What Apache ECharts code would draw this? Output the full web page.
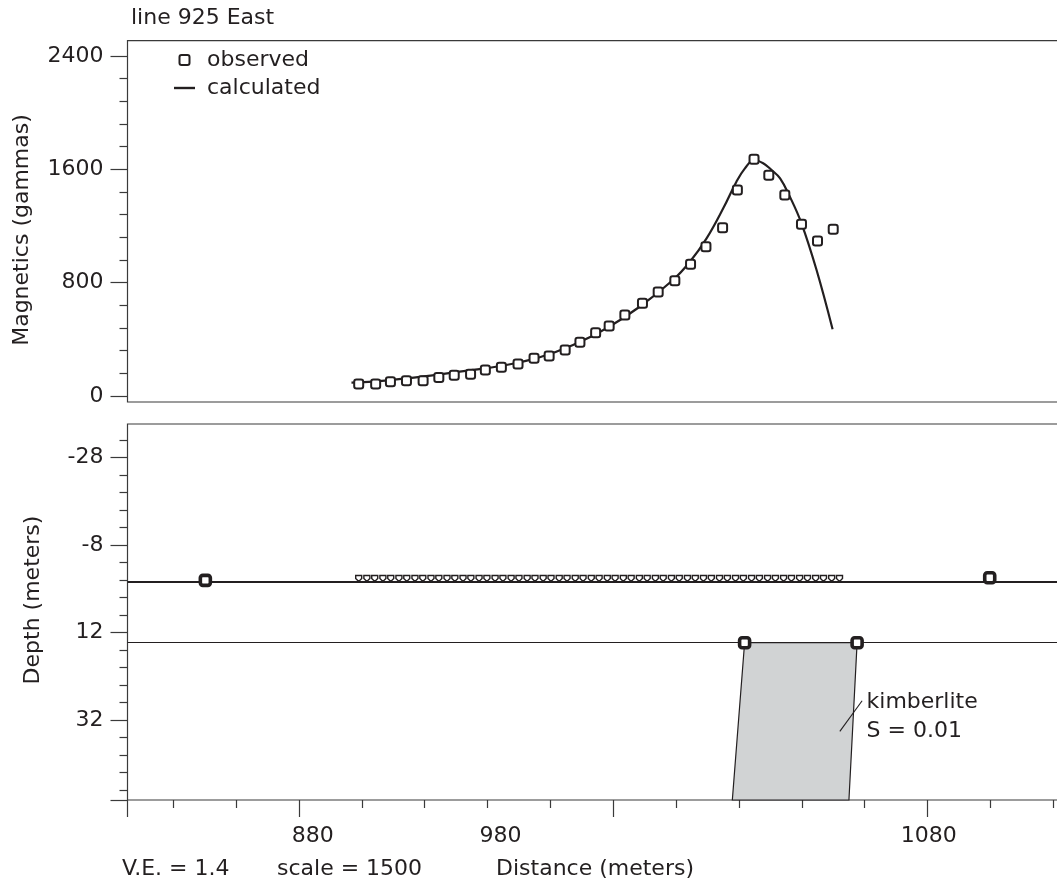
<!DOCTYPE html>
<html>
<head>
<meta charset="utf-8">
<script src="https://cdn.jsdelivr.net/npm/echarts@6/dist/echarts.min.js"></script>
<style>
  html, body { margin: 0; padding: 0; background: #ffffff; }
  #chart { width: 1057px; height: 892px; }
</style>
</head>
<body>
<div id="chart"></div>
<script>
// ---------- data ----------
// observed magnetics (top panel)
const obsX = [899, 904.4, 909.1, 914.2, 919.5, 924.5, 929.4, 934.6, 939.3, 944.4, 949.7, 954.8, 959.6, 964.7, 969.4, 974.4, 978.7, 983.7, 989.3, 994.3, 999.6, 1004.6, 1009.5, 1014.8, 1019.5, 1024.8, 1029.5, 1034.6, 1039.9, 1045.0, 1050.0];
const obsY = [85, 85, 100, 108, 108, 130, 146, 153, 184, 203, 226, 266, 282, 325, 379, 447, 494, 572, 654, 734, 814, 930, 1054, 1188, 1454, 1671, 1558, 1419, 1212, 1094, 1177];
// calculated magnetics (top panel)
const calcX = [896.7, 903.6, 914.2, 924.8, 935.4, 946.0, 956.6, 967.2, 977.9, 988.4, 999.0, 1004.4, 1009.7, 1015.0, 1019.2, 1021.9, 1024.8, 1027.7, 1030.4, 1033.1, 1036.2, 1039.9, 1044.7, 1049.8];
const calcY = [94, 101, 125, 153, 184, 219, 273, 360, 478, 630, 819, 948, 1113, 1325, 1513, 1607, 1666, 1643, 1595, 1536, 1407, 1219, 889, 471];
// stations (bottom panel)
const stationX = [899.0, 901.6, 904.1, 906.7, 909.2, 911.8, 914.3, 916.9, 919.4, 922.0, 924.5, 927.1, 929.6, 932.2, 934.7, 937.3, 939.8, 942.4, 944.9, 947.5, 950.0, 952.6, 955.1, 957.7, 960.2, 962.8, 965.3, 967.9, 970.4, 973.0, 975.5, 978.1, 980.6, 983.2, 985.7, 988.3, 990.8, 993.4, 995.9, 998.5, 1001.0, 1003.6, 1006.1, 1008.7, 1011.2, 1013.8, 1016.3, 1018.9, 1021.4, 1024.0, 1026.5, 1029.1, 1031.6, 1034.2, 1036.7, 1039.3, 1041.8, 1044.4, 1046.9, 1049.5, 1052.0];
const stationDepth = -0.32;
const endPointX = [850.2, 1099.8];
const endPointDepth = [0.1, -0.5];
const surfaceDepth = 0.41;
const layerDepth = 14.35;
// kimberlite body
const kimX = [1021.8, 1057.6, 1055.0, 1017.9];
const kimDepth = [14.35, 14.35, 50.27, 50.27];
const kimCornerX = [1021.8, 1057.6];
const kimCornerDepth = [14.35, 14.35];
const leaderX = [1052.1, 1059.2];
const leaderDepth = [34.6, 27.6];
const kimLabelAt = [1060.6, 31.2];
const kimLabel = 'kimberlite\nS = 0.01';
// axes
const xMin = 825.43, xMax = 1122.96;
const xMajorTicks = [825.43, 880, 980, 1080];
const xMinorTicks = [840, 860, 900, 920, 940, 960, 1000, 1020, 1040, 1060, 1100, 1120];
const xTickLabels = ['880', '980', '1080'];
const xTickLabelAt = [884.4, 944.1, 1080.4];
const magMin = -42.4, magMax = 2508;
const magMajor = [0, 800, 1600, 2400];
const magMinor = [160, 320, 480, 640, 960, 1120, 1280, 1440, 1760, 1920, 2080, 2240];
const depMin = -35.61, depMax = 50.27;
const depLabels = [-28, -8, 12, 32];
const depMajorTicks = [-28, -8, 12, 32, 50.27];
const depMinor = [-32, -24, -20, -16, -12, -4, 0, 4, 8, 16, 20, 24, 28, 36, 40, 44, 48];

// ---------- style ----------
const INK = '#231f20';
const AX = '#3a3a3a';
const FONT = 'DejaVu Sans';
const FS = 22;

const chart = echarts.init(document.getElementById('chart'), null, { renderer: 'canvas' });

function zip(a, b) { return a.map((v, i) => [v, b[i]]); }

const gridCommon = { show: true, borderColor: AX, borderWidth: 1.2, backgroundColor: 'transparent', outerBoundsMode: 'none', containLabel: false };

function xAx(gridIndex, extra) {
  return Object.assign({
    type: 'value', gridIndex, min: xMin, max: xMax, position: 'bottom',
    axisLine: { show: false, onZero: false }, splitLine: { show: false },
    axisLabel: { show: false }, axisTick: { show: false }
  }, extra);
}
function yAx(gridIndex, extra) {
  return Object.assign({
    type: 'value', gridIndex, position: 'left',
    axisLine: { show: false, onZero: false }, splitLine: { show: false },
    axisLabel: { show: false }, axisTick: { show: false }
  }, extra);
}
function plain(v) { return String(v); }

const option = {
  animation: false,
  backgroundColor: '#ffffff',
  textStyle: { fontFamily: FONT, color: INK },
  title: {
    text: 'line 925 East', left: 131, top: 7, padding: 0,
    textStyle: { fontFamily: FONT, fontSize: FS, fontWeight: 'normal', color: INK }
  },
  legend: {
    orient: 'vertical', left: 174, top: 49, padding: 0,
    itemWidth: 21, itemHeight: 10, itemGap: 6,
    symbolKeepAspect: true,
    textStyle: { fontFamily: FONT, fontSize: FS, color: INK, padding: [0, 0, 0, 7] },
    data: [
      { name: 'observed', icon: 'path://M2,0H8A2,2 0 0 1 10,2V8A2,2 0 0 1 8,10H2A2,2 0 0 1 0,8V2A2,2 0 0 1 2,0Z',
        itemStyle: { color: '#ffffff', borderColor: INK, borderWidth: 2, opacity: 1 } },
      { name: 'calculated', icon: 'path://M0,0H21V2.4H0Z',
        itemStyle: { color: INK, borderWidth: 0, opacity: 1 } }
    ]
  },
  grid: [
    Object.assign({ left: 127.5, top: 40.7, width: 935, height: 361.3 }, gridCommon),
    Object.assign({ left: 127.5, top: 424, width: 935, height: 376 }, gridCommon)
  ],
  xAxis: [
    xAx(0, {}),
    xAx(1, { axisTick: { show: true, customValues: xMinorTicks, length: 8, inside: false, lineStyle: { color: AX, width: 1.2 } } }),
    xAx(1, {
      axisTick: { show: true, customValues: xMajorTicks, length: 17, inside: false, lineStyle: { color: AX, width: 1.2 } },
      axisLabel: {
        show: true, customValues: xTickLabelAt, margin: 25,
        fontFamily: FONT, fontSize: FS, color: INK,
        formatter: function (v) {
          for (let i = 0; i < xTickLabelAt.length; i++) {
            if (Math.abs(xTickLabelAt[i] - v) < 1e-6) return xTickLabels[i];
          }
          return '';
        }
      },
      name: 'Distance (meters)', nameLocation: 'middle', nameGap: 58,
      nameTextStyle: { fontFamily: FONT, fontSize: FS, color: INK }
    })
  ],
  yAxis: [
    yAx(0, {
      min: magMin, max: magMax,
      axisTick: { show: true, customValues: magMajor, length: 17, lineStyle: { color: AX, width: 1.2 } },
      axisLabel: { show: true, customValues: magMajor, margin: 24, fontFamily: FONT, fontSize: FS, color: INK, formatter: plain }
    }),
    yAx(0, {
      min: magMin, max: magMax,
      axisTick: { show: true, customValues: magMinor, length: 8, lineStyle: { color: AX, width: 1.2 } }
    }),
    yAx(1, {
      min: depMin, max: depMax, inverse: true,
      axisTick: { show: true, customValues: depMajorTicks, length: 17, lineStyle: { color: AX, width: 1.2 } },
      axisLabel: { show: true, customValues: depLabels, margin: 24, fontFamily: FONT, fontSize: FS, color: INK, formatter: plain }
    }),
    yAx(1, {
      min: depMin, max: depMax, inverse: true,
      axisTick: { show: true, customValues: depMinor, length: 8, lineStyle: { color: AX, width: 1.2 } }
    })
  ],
  graphic: [
    { type: 'text', x: 22, y: 230, rotation: Math.PI / 2,
      style: { text: 'Magnetics (gammas)', fontFamily: FONT, fontSize: FS, fill: INK, align: 'center', verticalAlign: 'middle' } },
    { type: 'text', x: 33, y: 600, rotation: Math.PI / 2,
      style: { text: 'Depth (meters)', fontFamily: FONT, fontSize: FS, fill: INK, align: 'center', verticalAlign: 'middle' } },
    { type: 'text', x: 122, y: 869,
      style: { text: 'V.E. = 1.4', fontFamily: FONT, fontSize: FS, fill: INK, align: 'left', verticalAlign: 'middle' } },
    { type: 'text', x: 277, y: 869,
      style: { text: 'scale = 1500', fontFamily: FONT, fontSize: FS, fill: INK, align: 'left', verticalAlign: 'middle' } }
  ],
  series: [
    {
      name: 'calculated', type: 'line', xAxisIndex: 0, yAxisIndex: 0,
      data: zip(calcX, calcY), showSymbol: false, symbol: 'none',
      smooth: 0.4,
      lineStyle: { color: INK, width: 2.2, opacity: 1 }, itemStyle: { color: INK, opacity: 1 }, z: 3
    },
    {
      name: 'observed', type: 'scatter', xAxisIndex: 0, yAxisIndex: 0,
      data: zip(obsX, obsY), symbol: 'roundRect', symbolSize: 9,
      itemStyle: { color: '#ffffff', borderColor: INK, borderWidth: 2, opacity: 1 }, z: 4
    },
    {
      name: 'kimberlite', type: 'custom', xAxisIndex: 1, yAxisIndex: 2,
      data: [[kimX[0], kimDepth[0]]], clip: false, z: 2,
      renderItem: function (params, api) {
        const pts = kimX.map((x, i) => api.coord([x, kimDepth[i]]));
        return { type: 'polygon', shape: { points: pts },
          style: { fill: '#d1d3d4', stroke: INK, lineWidth: 1.2, opacity: 1 } };
      }
    },
    {
      name: 'surface', type: 'line', xAxisIndex: 1, yAxisIndex: 2, data: [], z: 3,
      markLine: {
        silent: true, symbol: 'none', label: { show: false },
        lineStyle: { color: INK, width: 2.2, type: 'solid', opacity: 1 },
        data: [{ yAxis: surfaceDepth }]
      }
    },
    {
      name: 'layer', type: 'line', xAxisIndex: 1, yAxisIndex: 2, data: [], z: 3,
      markLine: {
        silent: true, symbol: 'none', label: { show: false },
        lineStyle: { color: INK, width: 1.2, type: 'solid', opacity: 1 },
        data: [{ yAxis: layerDepth }]
      }
    },
    {
      name: 'leader', type: 'line', xAxisIndex: 1, yAxisIndex: 2,
      data: zip(leaderX, leaderDepth), symbol: 'none',
      lineStyle: { color: INK, width: 1.1, opacity: 1 }, z: 4
    },
    {
      name: 'stations', type: 'scatter', xAxisIndex: 1, yAxisIndex: 2,
      data: stationX.map(x => [x, stationDepth]),
      symbol: 'path://M0,0H10V5L5,10L0,5Z', symbolSize: [6, 6],
      itemStyle: { color: '#ffffff', borderColor: INK, borderWidth: 1.4, opacity: 1 }, z: 5
    },
    {
      name: 'endpoints', type: 'scatter', xAxisIndex: 1, yAxisIndex: 2,
      data: zip(endPointX, endPointDepth).concat(zip(kimCornerX, kimCornerDepth)),
      symbol: 'roundRect', symbolSize: 10,
      itemStyle: { color: '#ffffff', borderColor: INK, borderWidth: 3.6, opacity: 1 }, z: 6
    },
    {
      name: 'kimLabel', type: 'scatter', xAxisIndex: 1, yAxisIndex: 2,
      data: [kimLabelAt], symbolSize: 0, silent: true, z: 6,
      itemStyle: { opacity: 1 },
      label: {
        show: true, position: 'right', distance: 0, formatter: kimLabel,
        fontFamily: FONT, fontSize: FS, color: INK, opacity: 1, lineHeight: 29, align: 'left'
      }
    }
  ]
};

chart.setOption(option);
</script>
</body>
</html>
